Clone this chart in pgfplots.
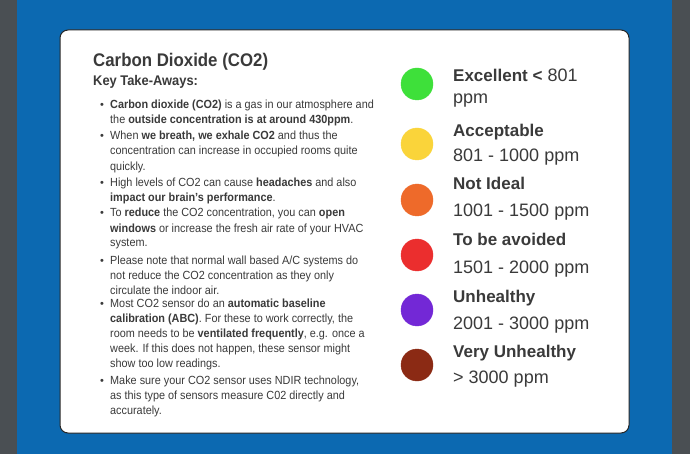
\documentclass[border=0pt]{standalone}
\usepackage{pgfplots}
\pgfplotsset{compat=1.18}
\usepackage{fontspec}
\setmainfont{Liberation Sans}
\newfontfamily\narrow{Liberation Sans}[FakeStretch=0.92]

\definecolor{outer}{HTML}{4A4F53}
\definecolor{bluebg}{HTML}{0C69B1}
\definecolor{ink}{HTML}{3A3A3A}
\definecolor{cgreen}{HTML}{3EE03A}
\definecolor{cyellow}{HTML}{FAD43A}
\definecolor{corange}{HTML}{EE6A2A}
\definecolor{cred}{HTML}{EB2E2E}
\definecolor{cpurple}{HTML}{7328D6}
\definecolor{cbrown}{HTML}{8B2A14}

\tikzset{
  body/.style={anchor=base west, inner sep=0pt, text=ink, font=\narrow\fontsize{11.8}{14}\selectfont},
  bul/.style={anchor=base, inner sep=0pt, text=ink, font=\fontsize{11}{14}\selectfont},
  lvl/.style={anchor=base west, inner sep=0pt, text=ink, font=\fontsize{17}{20}\selectfont\bfseries},
  val/.style={anchor=base west, inner sep=0pt, text=ink, font=\fontsize{18}{20}\selectfont},
}

\begin{document}
\begin{tikzpicture}
\begin{axis}[
  x=1pt, y=1pt, y dir=reverse,
  xmin=0, xmax=690, ymin=0, ymax=454,
  scale only axis, hide axis, clip=false,
]

% ── page background and card ───────────────────────────────────────────
\fill[outer] (axis cs:0,0) rectangle (axis cs:690,454);
\fill[bluebg] (axis cs:17,0) rectangle (axis cs:672,454);
\filldraw[fill=white, draw=black!85, line width=1pt, rounded corners=8pt]
  (axis cs:60,30) rectangle (axis cs:629,433);

% ── left column: title and take-aways ──────────────────────────────────
\node[anchor=base west, inner sep=0pt, text=ink, font=\narrow\fontsize{18.3}{20}\selectfont\bfseries]
  at (axis cs:93,67) {Carbon Dioxide (CO2)};
\node[anchor=base west, inner sep=0pt, text=ink, font=\narrow\fontsize{14}{16}\selectfont\bfseries]
  at (axis cs:93,86) {Key Take-Aways:};

% bullets
\node[bul] at (axis cs:102,109) {•};
\node[bul] at (axis cs:102,140) {•};
\node[bul] at (axis cs:102,187) {•};
\node[bul] at (axis cs:102,217) {•};
\node[bul] at (axis cs:102,264) {•};
\node[bul] at (axis cs:102,307) {•};
\node[bul] at (axis cs:102,384) {•};

\node[body] at (axis cs:110,109) {\textbf{Carbon dioxide (CO2)} is a gas in our atmosphere and};
\node[body] at (axis cs:110,124) {the \textbf{outside concentration is at around 430ppm}.};
\node[body] at (axis cs:110,140) {When \textbf{we breath, we exhale CO2} and thus the};
\node[body] at (axis cs:110,155) {concentration can increase in occupied rooms quite};
\node[body] at (axis cs:110,170.5) {quickly.};
\node[body] at (axis cs:110,187) {High levels of CO2 can cause \textbf{headaches} and also};
\node[body] at (axis cs:110,202) {\textbf{impact our brain’s performance}.};
\node[body] at (axis cs:110,217) {To \textbf{reduce} the CO2 concentration, you can \textbf{open}};
\node[body] at (axis cs:110,232.5) {\textbf{windows} or increase the fresh air rate of your HVAC};
\node[body] at (axis cs:110,247) {system.};
\node[body] at (axis cs:110,264) {Please note that normal wall based A/C systems do};
\node[body] at (axis cs:110,279) {not reduce the CO2 concentration as they only};
\node[body] at (axis cs:110,294) {circulate the indoor air.};
\node[body] at (axis cs:110,307) {Most CO2 sensor do an \textbf{automatic baseline}};
\node[body] at (axis cs:110,322) {\textbf{calibration (ABC)}. For these to work correctly, the};
\node[body] at (axis cs:110,337) {room needs to be \textbf{ventilated frequently}, e.g. once a};
\node[body] at (axis cs:110,352) {week. If this does not happen, these sensor might};
\node[body] at (axis cs:110,367) {show too low readings.};
\node[body] at (axis cs:110,384) {Make sure your CO2 sensor uses NDIR technology,};
\node[body] at (axis cs:110,399) {as this type of sensors measure C02 directly and};
\node[body] at (axis cs:110,414) {accurately.};

% ── right column: CO2 levels ───────────────────────────────────────────
\addplot[only marks, mark=*, mark size=16pt, mark options={draw=cgreen, fill=cgreen}]
  coordinates {(417,84)};
\addplot[only marks, mark=*, mark size=16pt, mark options={draw=cyellow, fill=cyellow}]
  coordinates {(417,144)};
\addplot[only marks, mark=*, mark size=16pt, mark options={draw=corange, fill=corange}]
  coordinates {(417,200)};
\addplot[only marks, mark=*, mark size=16pt, mark options={draw=cred, fill=cred}]
  coordinates {(417,255)};
\addplot[only marks, mark=*, mark size=16pt, mark options={draw=cpurple, fill=cpurple}]
  coordinates {(417,310)};
\addplot[only marks, mark=*, mark size=16pt, mark options={draw=cbrown, fill=cbrown}]
  coordinates {(417,365)};

\node[lvl] at (axis cs:453,82) {Excellent <\fontsize{18}{20}\selectfont\mdseries{} 801};
\node[val] at (axis cs:453,104) {ppm};
\node[lvl] at (axis cs:453,137) {Acceptable};
\node[val] at (axis cs:453,162) {801 - 1000 ppm};
\node[lvl] at (axis cs:453,190) {Not Ideal};
\node[val] at (axis cs:453,217) {1001 - 1500 ppm};
\node[lvl] at (axis cs:453,246) {To be avoided};
\node[val] at (axis cs:453,273) {1501 - 2000 ppm};
\node[lvl] at (axis cs:453,302) {Unhealthy};
\node[val] at (axis cs:453,329) {2001 - 3000 ppm};
\node[lvl] at (axis cs:453,357) {Very Unhealthy};
\node[val] at (axis cs:453,383) {> 3000 ppm};

\end{axis}
\end{tikzpicture}
\end{document}
